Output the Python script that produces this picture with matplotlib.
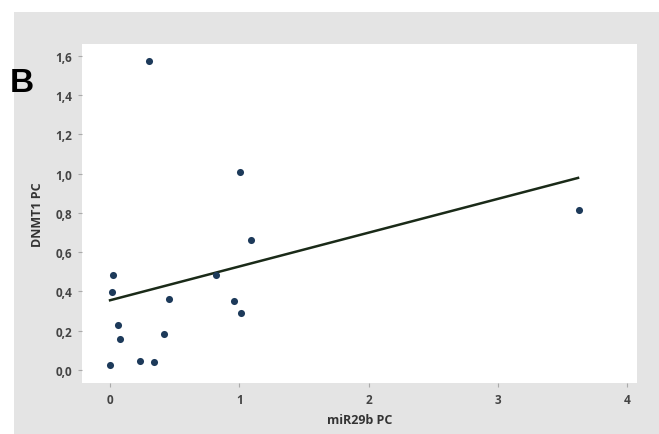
import matplotlib
matplotlib.use("Agg")
import matplotlib.pyplot as plt
from matplotlib.patches import Rectangle
from matplotlib.ticker import FuncFormatter

mir29b_pc = [0.30, 1.005, 0.0, 0.026, 0.018, 0.062, 0.08, 0.23, 0.338, 0.415,
             0.459, 0.817, 0.957, 1.01, 1.09, 3.63]
dnmt1_pc = [1.573, 1.008, 0.025, 0.482, 0.395, 0.229, 0.156, 0.046, 0.041, 0.185,
            0.361, 0.485, 0.351, 0.292, 0.66, 0.814]
fit_x = [0.0, 3.62]
fit_intercept = 0.355
fit_slope = 0.172
x_ticks = [0, 1, 2, 3, 4]
y_ticks = [0.0, 0.2, 0.4, 0.6, 0.8, 1.0, 1.2, 1.4, 1.6]

W, H = 659, 435
fig = plt.figure(figsize=(W / 100, H / 100), dpi=100, facecolor="white")
fig.patches.append(Rectangle((14 / W, 0), 1, (H - 13) / H, transform=fig.transFigure,
                             facecolor="#e4e4e4", edgecolor="none", zorder=-1))

ax = fig.add_axes([82 / W, 1 - 384 / H, (637 - 82) / W, (384 - 45) / H])
ax.set_facecolor("white")
for s in ax.spines.values():
    s.set_visible(False)

ax.scatter(mir29b_pc, dnmt1_pc, s=26, color="#1d3a5a", zorder=3, linewidths=0)
fit_y = [fit_intercept + fit_slope * x for x in fit_x]
ax.plot(fit_x, fit_y, color="#1a2a18", lw=1.8, zorder=2)

ax.set_xlim(-0.217, 4.076)
ax.set_ylim(-0.066, 1.659)
ax.set_xticks(x_ticks)
ax.set_yticks(y_ticks)
ax.xaxis.set_major_formatter(FuncFormatter(lambda v, p: f"{v:g}"))
ax.yaxis.set_major_formatter(FuncFormatter(lambda v, p: f"{v:.1f}".replace(".", ",")))
ax.tick_params(axis="both", direction="out", length=3, width=0.8, color="#aaaaaa",
               labelsize=8.5, labelcolor="#444444", pad=4)
for lab in ax.get_xticklabels() + ax.get_yticklabels():
    lab.set_fontweight("bold")
    lab.set_family("Open Sans")

ax.set_xlabel("miR29b PC", fontsize=9, fontweight="bold", color="#333333",
              family="Open Sans", labelpad=5)
ax.set_ylabel("DNMT1 PC", fontsize=9, fontweight="bold", color="#333333",
              family="Open Sans", labelpad=8)

fig.text(10 / W, 1 - 92 / H, "B", fontsize=24, fontweight="bold", family="Liberation Sans",
         color="black", ha="left", va="baseline")

fig.savefig("out.png", dpi=100, facecolor="white")
